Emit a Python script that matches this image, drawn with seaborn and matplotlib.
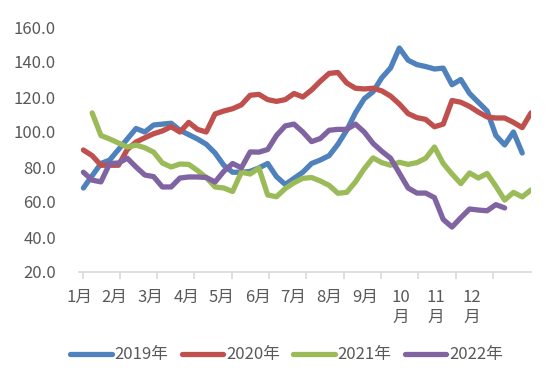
import numpy as np
import pandas as pd
import seaborn as sns
import matplotlib
matplotlib.use("Agg")
import matplotlib.pyplot as plt
from matplotlib.ticker import FixedLocator, FormatStrFormatter

# ---- data (weekly values) ----
s2019 = [68, 75, 82, 84, 90, 96, 102, 100, 104, 104.5, 105, 101, 98.5, 96, 93, 88,
         81, 77, 77, 77.5, 79.5, 82, 74.5, 70, 73.5, 77, 82, 84, 86.5, 93, 101, 111,
         119, 123, 131, 136.6, 148, 141, 138.5, 137.4, 136, 136.5, 127, 130, 122, 117,
         112, 98, 92.6, 100, 88]
s2020 = [89.7, 86.5, 81, 81, 81, 90, 94.3, 96.7, 99, 100.6, 103, 100, 105.5, 101.5,
         100, 110.3, 112, 113.3, 115.5, 121, 121.5, 118.5, 117.5, 118.5, 122, 120, 124,
         129, 133.5, 134, 128, 125, 124.6, 125, 123.5, 120.5, 116, 110.5, 108.2, 107.2,
         103, 104.5, 118, 117, 114.6, 111.4, 108.6, 108, 108, 105.5, 102.5, 110.9]
s2021 = [np.nan, 110.9, 98, 96, 93.7, 91.4, 92.5, 91, 88.5, 82.3, 80, 81.7, 81.5, 78,
         74, 68.6, 68, 66, 77, 76, 79.4, 64, 63, 67.7, 71, 73.5, 74, 72, 69.5, 65, 65.5,
         71.5, 79, 85.2, 82.5, 81, 82.7, 81.5, 82.5, 85, 91.4, 82, 76, 70.5, 76.6, 73.7,
         76.3, 69, 61.1, 65.5, 62.9, 66.9]
s2022 = [77, 72.5, 71.5, 82, 82.3, 85, 80, 75.4, 74.5, 68.6, 68.6, 73.7, 74.3, 74.3,
         74, 71.4, 77.5, 82, 79.5, 88.6, 88.5, 90, 98, 103.5, 104.5, 100, 94.5, 96.3,
         101, 101.5, 101.5, 104.5, 100, 93.5, 89, 85, 76.5, 68, 65.1, 65.1, 62.5, 50,
         45.7, 51, 56, 55.4, 55, 58.5, 56.6]
series_names = ["2019年", "2020年", "2021年", "2022年"]
month_labels = ["1月", "2月", "3月", "4月", "5月", "6月", "7月", "8月", "9月",
                "10\n月", "11\n月", "12\n月"]
y_ticks = [20, 40, 60, 80, 100, 120, 140, 160]

colors = ["#4F81BD", "#C0504D", "#9BBB59", "#8064A2"]

frames = []
for name, vals in zip(series_names, [s2019, s2020, s2021, s2022]):
    frames.append(pd.DataFrame({"week": np.arange(len(vals)), "value": vals, "year": name}))
df = pd.concat(frames, ignore_index=True)

sns.set_theme(style="white")
plt.rcParams["font.family"] = ["Noto Sans CJK SC", "DejaVu Sans"]

fig = plt.figure(figsize=(5.5, 3.75), dpi=100)
ax = fig.add_axes([79 / 550, 1 - 272 / 375, (531 - 79) / 550, (272 - 27) / 375])

sns.lineplot(data=df, x="week", y="value", hue="year", palette=colors,
             linewidth=3.8, ax=ax, legend=True, solid_capstyle="round",
             solid_joinstyle="round")

ax.set_xlim(-0.1, 51)
ax.set_ylim(20, 160)
ax.set_xlabel("")
ax.set_ylabel("")

for sp in ["top", "right", "left"]:
    ax.spines[sp].set_visible(False)
ax.spines["bottom"].set_color("#D9D9D9")
ax.spines["bottom"].set_linewidth(1.2)

ax.yaxis.set_major_locator(FixedLocator(y_ticks))
ax.yaxis.set_major_formatter(FormatStrFormatter("%.1f"))
ax.tick_params(axis="y", length=0, pad=16.5, labelsize=12, labelcolor="#595959")

label_pos = [-0.5 + 4.07 * m for m in range(12)]
tick_pos = [-0.1 + 4.25 * m for m in range(12)]
ax.set_xticks(label_pos)
ax.set_xticklabels(month_labels, linespacing=1.25, va="top")
ax.tick_params(axis="x", which="major", length=0, pad=12, labelsize=12,
               labelcolor="#595959")
ax.xaxis.set_minor_locator(FixedLocator(tick_pos))
ax.tick_params(axis="x", which="minor", length=5, width=1.2, color="#D9D9D9",
               direction="out", bottom=True)

handles, labels = ax.get_legend_handles_labels()
ax.legend_.remove()
leg = fig.legend(handles, labels, loc="center", bbox_to_anchor=(286.5 / 550, 1 - 355 / 375),
                 ncol=4, frameon=False, fontsize=12, handlelength=2.5,
                 handletextpad=0.18, columnspacing=0.78, labelcolor="#595959")
for h in leg.legend_handles:
    h.set_linewidth(3.8)

fig.savefig("out.png", dpi=100)
